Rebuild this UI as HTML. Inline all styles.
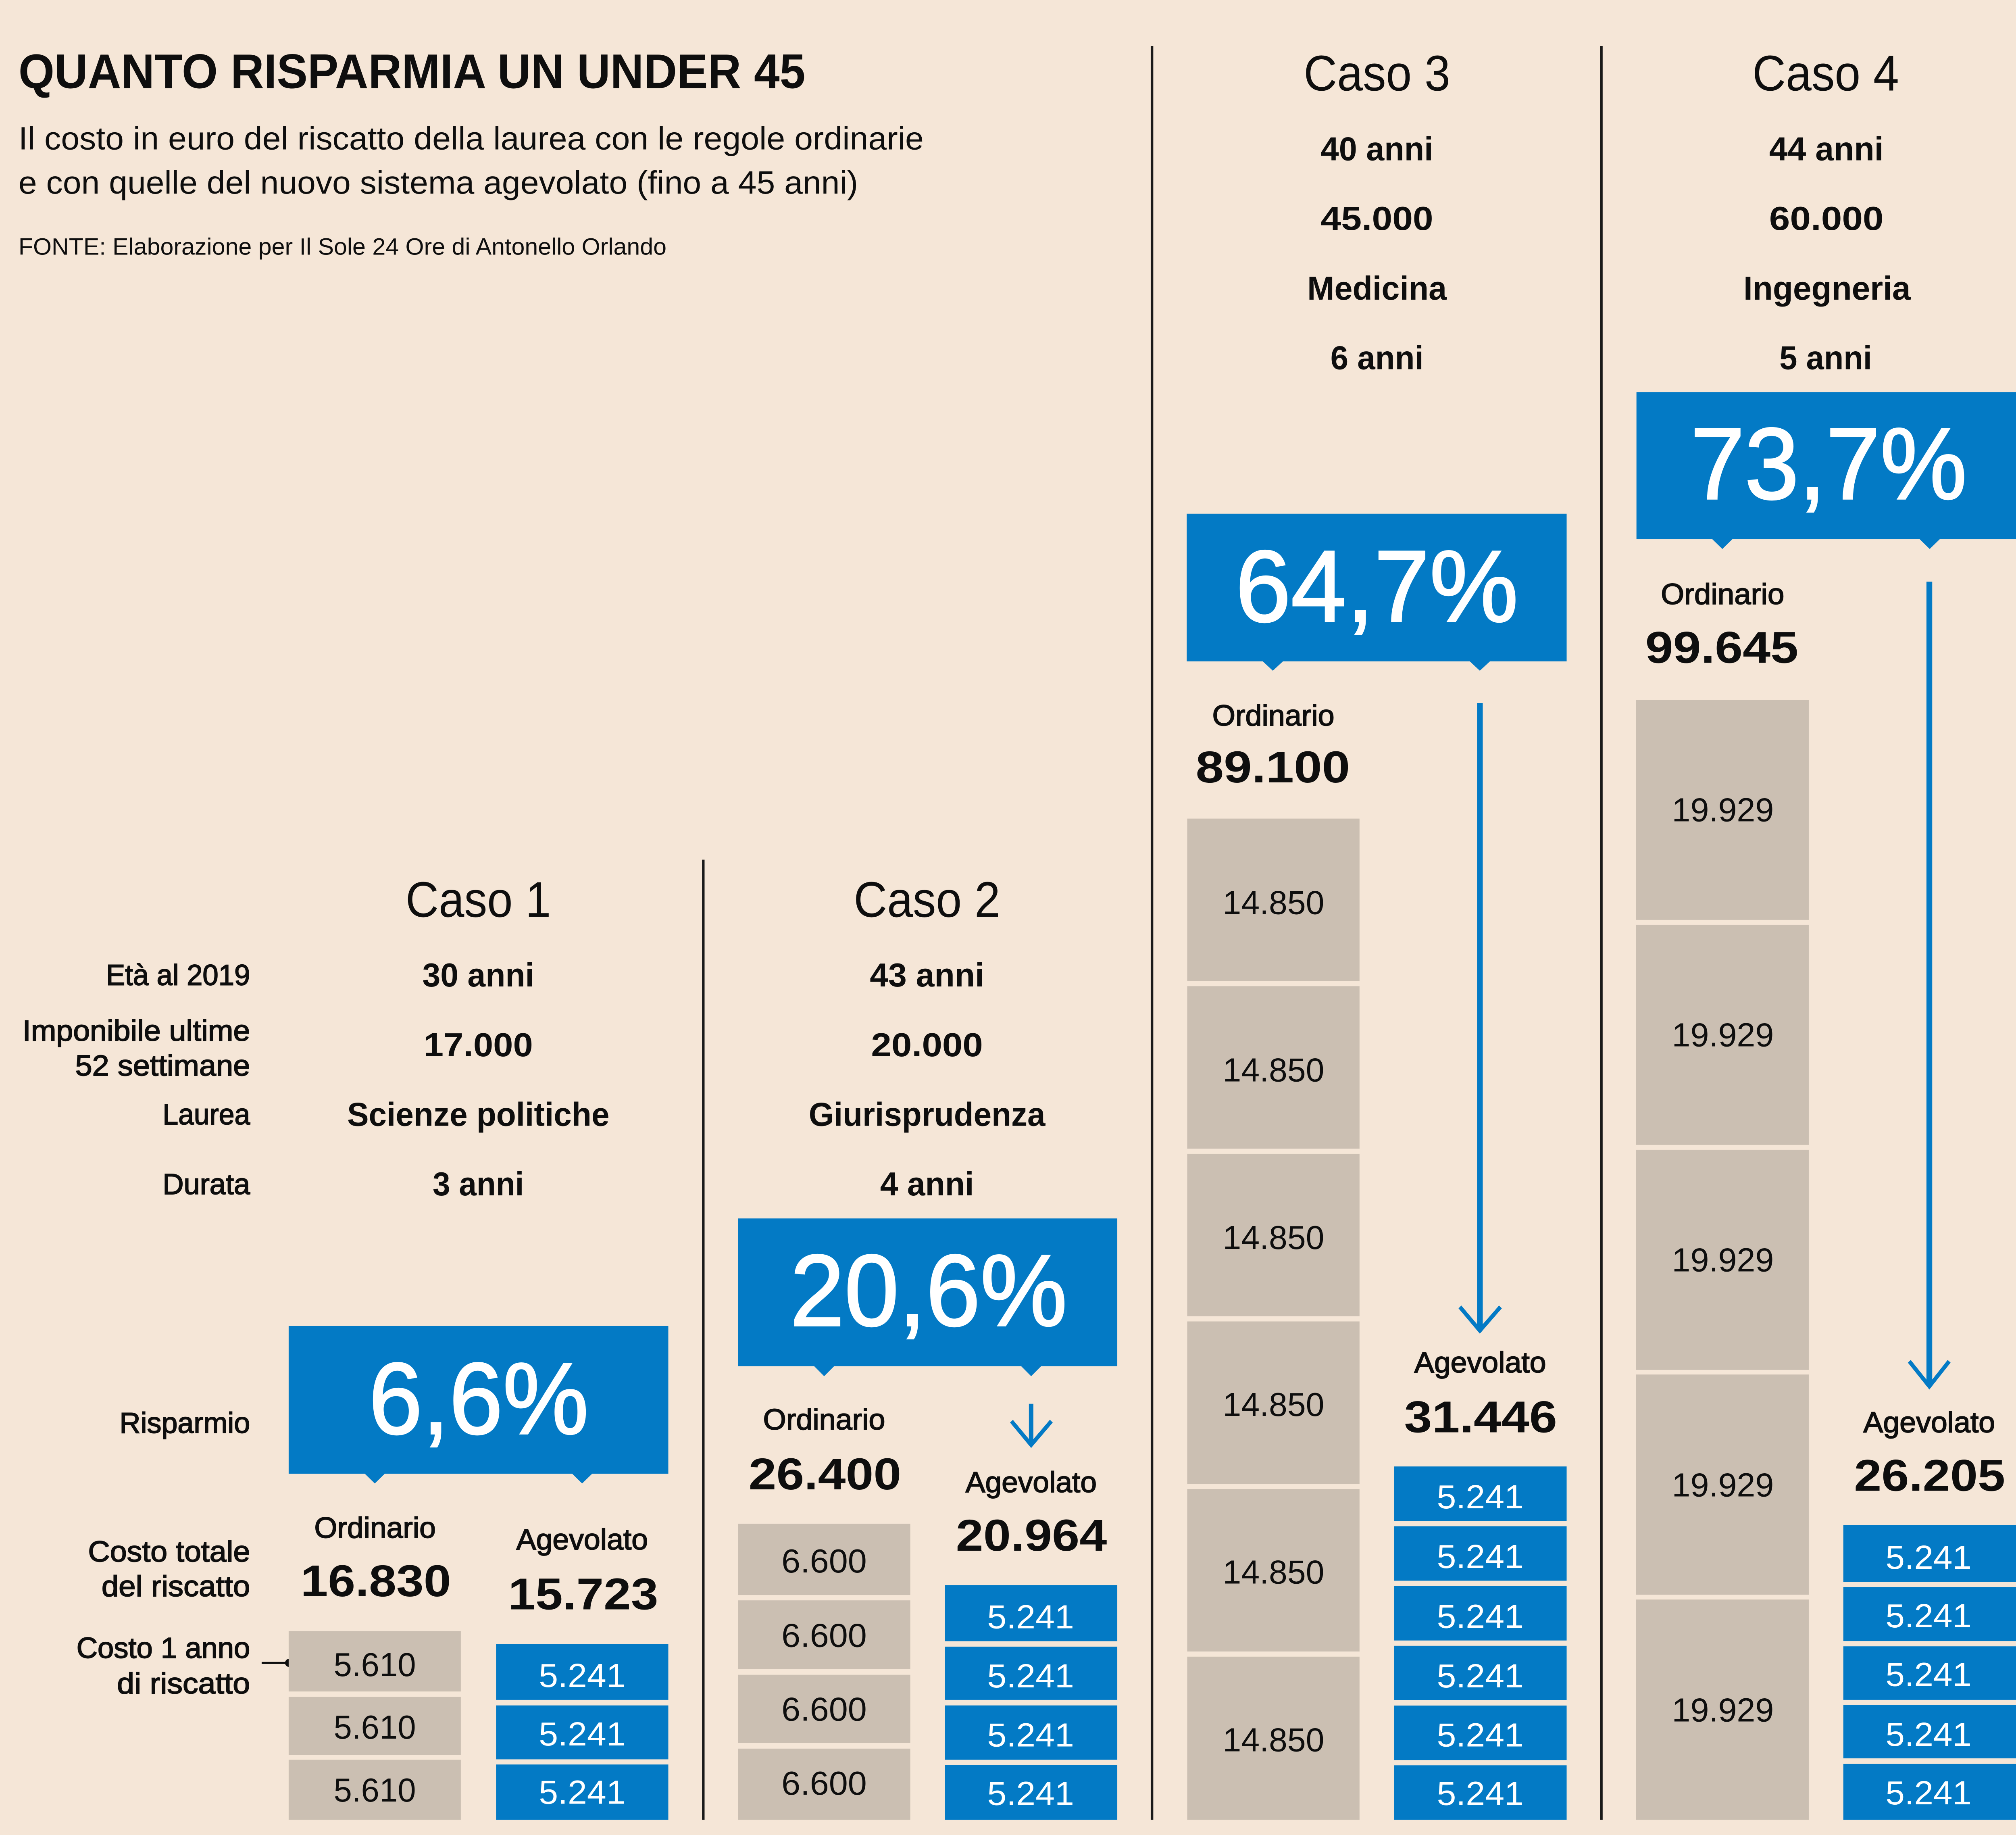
<!DOCTYPE html>
<html><head><meta charset="utf-8"><style>
html,body{margin:0;padding:0;background:#F5E6D7;overflow:hidden;width:100vw;height:100vh;}
svg{display:block;width:100vw;height:100vh;}
text{font-family:"Liberation Sans",Arial,sans-serif;fill:#0e0e0e;}
.b{font-weight:bold;}
.m text{stroke:#0e0e0e;stroke-width:0.55;}
text.w{fill:#fff;}
.pc text{fill:#fff;stroke:#fff;stroke-width:1.1;font-size:73px;}
.bx{font-size:24px;}
.lab{font-size:21px;}
.row{font-size:24px;font-weight:bold;}
.tot{font-size:32px;font-weight:bold;}
.cs{font-size:36px;}
</style></head><body>
<svg viewBox="0 0 1568 1317" preserveAspectRatio="none" xmlns="http://www.w3.org/2000/svg">
<rect x="0" y="0" width="1568" height="1317" fill="#F5E6D7"/>

<!-- Header -->
<text x="14.4" y="63.3" class="b" font-size="35" textLength="612" lengthAdjust="spacingAndGlyphs">QUANTO RISPARMIA UN UNDER 45</text>
<text x="14.4" y="107.2" font-size="23" textLength="704" lengthAdjust="spacingAndGlyphs">Il costo in euro del riscatto della laurea con le regole ordinarie</text>
<text x="14.4" y="139" font-size="23" textLength="653" lengthAdjust="spacingAndGlyphs">e con quelle del nuovo sistema agevolato (fino a 45 anni)</text>
<text x="14.4" y="182.8" font-size="17" textLength="504" lengthAdjust="spacingAndGlyphs">FONTE: Elaborazione per Il Sole 24 Ore di Antonello Orlando</text>

<!-- Dividers -->
<line x1="547" y1="617" x2="547" y2="1306" stroke="#1a1a1a" stroke-width="2"/>
<line x1="896" y1="33" x2="896" y2="1306" stroke="#1a1a1a" stroke-width="2"/>
<line x1="1245.5" y1="33" x2="1245.5" y2="1306" stroke="#1a1a1a" stroke-width="2"/>

<!-- Left labels -->
<g class="lab m" text-anchor="end">
<text x="194.5" y="707" textLength="112" lengthAdjust="spacingAndGlyphs">Età al 2019</text>
<text x="194.5" y="747" textLength="177" lengthAdjust="spacingAndGlyphs">Imponibile ultime</text>
<text x="194.5" y="772" textLength="136" lengthAdjust="spacingAndGlyphs">52 settimane</text>
<text x="194.5" y="807" textLength="68" lengthAdjust="spacingAndGlyphs">Laurea</text>
<text x="194.5" y="857" textLength="68" lengthAdjust="spacingAndGlyphs">Durata</text>
<text x="194.5" y="1028.4" textLength="101.5" lengthAdjust="spacingAndGlyphs">Risparmio</text>
<text x="194.5" y="1120.7" textLength="126" lengthAdjust="spacingAndGlyphs">Costo totale</text>
<text x="194.5" y="1145.6" textLength="115.5" lengthAdjust="spacingAndGlyphs">del riscatto</text>
<text x="194.5" y="1190" textLength="135" lengthAdjust="spacingAndGlyphs">Costo 1 anno</text>
<text x="194.5" y="1215.4" textLength="103.5" lengthAdjust="spacingAndGlyphs">di riscatto</text>
</g>
<line x1="203.5" y1="1193.5" x2="224" y2="1193.5" stroke="#0e0e0e" stroke-width="1.5"/>
<circle cx="224.5" cy="1193.5" r="2.8" fill="#0e0e0e"/>

<!-- Case headers -->
<g class="cs" text-anchor="middle">
<text x="372" y="658" textLength="113" lengthAdjust="spacingAndGlyphs">Caso 1</text>
<text x="721" y="658" textLength="114" lengthAdjust="spacingAndGlyphs">Caso 2</text>
<text x="1071" y="65" textLength="114" lengthAdjust="spacingAndGlyphs">Caso 3</text>
<text x="1420" y="65" textLength="114" lengthAdjust="spacingAndGlyphs">Caso 4</text>
</g>

<!-- Row values -->
<g class="row" text-anchor="middle">
<text x="372" y="708" textLength="87" lengthAdjust="spacingAndGlyphs">30 anni</text>
<text x="372" y="758" textLength="85" lengthAdjust="spacingAndGlyphs">17.000</text>
<text x="372" y="808" textLength="204" lengthAdjust="spacingAndGlyphs">Scienze politiche</text>
<text x="372" y="858" textLength="71" lengthAdjust="spacingAndGlyphs">3 anni</text>

<text x="721" y="708" textLength="89" lengthAdjust="spacingAndGlyphs">43 anni</text>
<text x="721" y="758" textLength="87" lengthAdjust="spacingAndGlyphs">20.000</text>
<text x="721" y="808" textLength="184" lengthAdjust="spacingAndGlyphs">Giurisprudenza</text>
<text x="721" y="858" textLength="73" lengthAdjust="spacingAndGlyphs">4 anni</text>

<text x="1071" y="115" textLength="87.5" lengthAdjust="spacingAndGlyphs">40 anni</text>
<text x="1071" y="165" textLength="87.5" lengthAdjust="spacingAndGlyphs">45.000</text>
<text x="1071" y="215" textLength="108.5" lengthAdjust="spacingAndGlyphs">Medicina</text>
<text x="1071" y="265" textLength="72.5" lengthAdjust="spacingAndGlyphs">6 anni</text>

<text x="1420.5" y="115" textLength="89" lengthAdjust="spacingAndGlyphs">44 anni</text>
<text x="1420.5" y="165" textLength="89" lengthAdjust="spacingAndGlyphs">60.000</text>
<text x="1421" y="215" textLength="130" lengthAdjust="spacingAndGlyphs">Ingegneria</text>
<text x="1420" y="265" textLength="72" lengthAdjust="spacingAndGlyphs">5 anni</text>
</g>

<!-- Percentage boxes -->
<g fill="#037AC5">
<rect x="224.5" y="951.7" width="295.3" height="106"/>
<polygon points="283.5,1057.5 291.5,1064.7 299.5,1057.5"/>
<polygon points="444.8,1057.5 452.8,1064.7 460.8,1057.5"/>

<rect x="574" y="874.5" width="295" height="106"/>
<polygon points="633,980.3 641,987.7 649,980.3"/>
<polygon points="794,980.3 802,987.7 810,980.3"/>

<rect x="923" y="368.7" width="295.5" height="106"/>
<polygon points="982,474.5 990,481.4 998,474.5"/>
<polygon points="1143,474.5 1151,481.4 1159,474.5"/>

<rect x="1272.8" y="281.4" width="295.2" height="105.6"/>
<polygon points="1331.6,386.8 1339.6,394 1347.6,386.8"/>
<polygon points="1492.9,386.8 1500.9,394 1508.9,386.8"/>
</g>
<g class="pc" text-anchor="middle">
<text x="372.3" y="1029" textLength="171" lengthAdjust="spacingAndGlyphs">6,6%</text>
<text x="722.3" y="951.4" textLength="215.5" lengthAdjust="spacingAndGlyphs">20,6%</text>
<text x="1070.9" y="446" textLength="220" lengthAdjust="spacingAndGlyphs">64,7%</text>
<text x="1422.3" y="358" textLength="215" lengthAdjust="spacingAndGlyphs">73,7%</text>
</g>

<!-- Ordinario / Agevolato labels -->
<g class="lab m" text-anchor="middle">
<text x="291.7" y="1103.7" textLength="94.5" lengthAdjust="spacingAndGlyphs">Ordinario</text>
<text x="452.8" y="1112" textLength="102.4" lengthAdjust="spacingAndGlyphs">Agevolato</text>
<text x="641" y="1026" textLength="95" lengthAdjust="spacingAndGlyphs">Ordinario</text>
<text x="802" y="1071" textLength="102" lengthAdjust="spacingAndGlyphs">Agevolato</text>
<text x="990.4" y="520.7" textLength="95" lengthAdjust="spacingAndGlyphs">Ordinario</text>
<text x="1151.3" y="985" textLength="102.5" lengthAdjust="spacingAndGlyphs">Agevolato</text>
<text x="1339.8" y="433.6" textLength="96" lengthAdjust="spacingAndGlyphs">Ordinario</text>
<text x="1500.5" y="1028" textLength="102.5" lengthAdjust="spacingAndGlyphs">Agevolato</text>
</g>
<g class="tot" text-anchor="middle">
<text x="292.3" y="1145.6" textLength="117" lengthAdjust="spacingAndGlyphs">16.830</text>
<text x="453.6" y="1155" textLength="116.7" lengthAdjust="spacingAndGlyphs">15.723</text>
<text x="641.6" y="1069" textLength="118.7" lengthAdjust="spacingAndGlyphs">26.400</text>
<text x="802.2" y="1113" textLength="117.5" lengthAdjust="spacingAndGlyphs">20.964</text>
<text x="990" y="561.6" textLength="120" lengthAdjust="spacingAndGlyphs">89.100</text>
<text x="1151.6" y="1028" textLength="119" lengthAdjust="spacingAndGlyphs">31.446</text>
<text x="1339.2" y="475.7" textLength="119" lengthAdjust="spacingAndGlyphs">99.645</text>
<text x="1500.8" y="1070" textLength="117.6" lengthAdjust="spacingAndGlyphs">26.205</text>
</g>

<!-- Arrows -->
<g stroke="#037AC5" fill="none">
<line x1="802" y1="1007.5" x2="802" y2="1036" stroke-width="3.5"/>
<polyline points="786.7,1020 802,1037 817.7,1020" stroke-width="3"/>
<line x1="1151" y1="504.5" x2="1151" y2="953" stroke-width="4.5"/>
<polyline points="1135.5,938 1151,955 1167,938" stroke-width="3"/>
<line x1="1500.6" y1="417.5" x2="1500.6" y2="993" stroke-width="4.5"/>
<polyline points="1485,977 1500.6,995 1516,977" stroke-width="3"/>
</g>

<!-- Gray boxes -->
<g fill="#CBBFB2">
<rect x="224.5" y="1170.6" width="133.9" height="43.4"/>
<rect x="224.5" y="1217.8" width="133.9" height="41.7"/>
<rect x="224.5" y="1263" width="133.9" height="43"/>

<rect x="574" y="1093.6" width="134" height="51.2"/>
<rect x="574" y="1148.6" width="134" height="49.4"/>
<rect x="574" y="1202" width="134" height="49"/>
<rect x="574" y="1255" width="134" height="51"/>

<rect x="923.4" y="587.5" width="134" height="116.6"/>
<rect x="923.4" y="707.8" width="134" height="116.6"/>
<rect x="923.4" y="828.1" width="134" height="116.6"/>
<rect x="923.4" y="948.4" width="134" height="116.6"/>
<rect x="923.4" y="1068.7" width="134" height="116.6"/>
<rect x="923.4" y="1189" width="134" height="117"/>

<rect x="1272.5" y="502.2" width="134.3" height="158"/>
<rect x="1272.5" y="663.7" width="134.3" height="158"/>
<rect x="1272.5" y="825.2" width="134.3" height="158"/>
<rect x="1272.5" y="986.5" width="134.3" height="158"/>
<rect x="1272.5" y="1148" width="134.3" height="158"/>
</g>

<!-- Blue boxes -->
<g fill="#037AC5">
<rect x="385.8" y="1180" width="134" height="40"/>
<rect x="385.8" y="1224" width="134" height="38.7"/>
<rect x="385.8" y="1266.4" width="134" height="39.6"/>

<rect x="735" y="1137.6" width="134" height="40.3"/>
<rect x="735" y="1181.8" width="134" height="38.2"/>
<rect x="735" y="1224" width="134" height="39"/>
<rect x="735" y="1266.7" width="134" height="39.3"/>

<rect x="1084.3" y="1052.5" width="134.2" height="39.1"/>
<rect x="1084.3" y="1095.4" width="134.2" height="39.1"/>
<rect x="1084.3" y="1138.3" width="134.2" height="39.1"/>
<rect x="1084.3" y="1181.2" width="134.2" height="39.1"/>
<rect x="1084.3" y="1224.1" width="134.2" height="39.1"/>
<rect x="1084.3" y="1267" width="134.2" height="39"/>

<rect x="1433.7" y="1094.7" width="134.3" height="40.6"/>
<rect x="1433.7" y="1139" width="134.3" height="38.8"/>
<rect x="1433.7" y="1181.6" width="134.3" height="38.4"/>
<rect x="1433.7" y="1223.8" width="134.3" height="38.2"/>
<rect x="1433.7" y="1266" width="134.3" height="40"/>
</g>

<!-- Box numbers gray -->
<g class="bx" text-anchor="middle">
<text x="291.5" y="1202.9" textLength="64" lengthAdjust="spacingAndGlyphs">5.610</text>
<text x="291.5" y="1247.8" textLength="64" lengthAdjust="spacingAndGlyphs">5.610</text>
<text x="291.5" y="1293" textLength="64" lengthAdjust="spacingAndGlyphs">5.610</text>

<text x="641" y="1128.6" textLength="66.4" lengthAdjust="spacingAndGlyphs">6.600</text>
<text x="641" y="1182" textLength="66.4" lengthAdjust="spacingAndGlyphs">6.600</text>
<text x="641" y="1235" textLength="66.4" lengthAdjust="spacingAndGlyphs">6.600</text>
<text x="641" y="1288" textLength="66.4" lengthAdjust="spacingAndGlyphs">6.600</text>

<text x="990.5" y="656" textLength="79" lengthAdjust="spacingAndGlyphs">14.850</text>
<text x="990.5" y="776.2" textLength="79" lengthAdjust="spacingAndGlyphs">14.850</text>
<text x="990.5" y="896.5" textLength="79" lengthAdjust="spacingAndGlyphs">14.850</text>
<text x="990.5" y="1016.3" textLength="79" lengthAdjust="spacingAndGlyphs">14.850</text>
<text x="990.5" y="1136.6" textLength="79" lengthAdjust="spacingAndGlyphs">14.850</text>
<text x="990.5" y="1257" textLength="79" lengthAdjust="spacingAndGlyphs">14.850</text>

<text x="1340" y="589.5" textLength="79.3" lengthAdjust="spacingAndGlyphs">19.929</text>
<text x="1340" y="751" textLength="79.3" lengthAdjust="spacingAndGlyphs">19.929</text>
<text x="1340" y="912.5" textLength="79.3" lengthAdjust="spacingAndGlyphs">19.929</text>
<text x="1340" y="1074" textLength="79.3" lengthAdjust="spacingAndGlyphs">19.929</text>
<text x="1340" y="1235.5" textLength="79.3" lengthAdjust="spacingAndGlyphs">19.929</text>
</g>

<!-- Box numbers blue -->
<g class="bx" text-anchor="middle">
<text class="w" x="452.8" y="1210.8" textLength="67.5" lengthAdjust="spacingAndGlyphs">5.241</text>
<text class="w" x="452.8" y="1252.8" textLength="67.5" lengthAdjust="spacingAndGlyphs">5.241</text>
<text class="w" x="452.8" y="1294.6" textLength="67.5" lengthAdjust="spacingAndGlyphs">5.241</text>

<text class="w" x="801.6" y="1168.6" textLength="67.6" lengthAdjust="spacingAndGlyphs">5.241</text>
<text class="w" x="801.6" y="1211" textLength="67.6" lengthAdjust="spacingAndGlyphs">5.241</text>
<text class="w" x="801.6" y="1253.4" textLength="67.6" lengthAdjust="spacingAndGlyphs">5.241</text>
<text class="w" x="801.6" y="1295.5" textLength="67.6" lengthAdjust="spacingAndGlyphs">5.241</text>

<text class="w" x="1151.3" y="1082.5" textLength="67.6" lengthAdjust="spacingAndGlyphs">5.241</text>
<text class="w" x="1151.3" y="1125.4" textLength="67.6" lengthAdjust="spacingAndGlyphs">5.241</text>
<text class="w" x="1151.3" y="1168.3" textLength="67.6" lengthAdjust="spacingAndGlyphs">5.241</text>
<text class="w" x="1151.3" y="1211" textLength="67.6" lengthAdjust="spacingAndGlyphs">5.241</text>
<text class="w" x="1151.3" y="1253.4" textLength="67.6" lengthAdjust="spacingAndGlyphs">5.241</text>
<text class="w" x="1151.3" y="1295.5" textLength="67.6" lengthAdjust="spacingAndGlyphs">5.241</text>

<text class="w" x="1500" y="1126" textLength="67" lengthAdjust="spacingAndGlyphs">5.241</text>
<text class="w" x="1500" y="1168" textLength="67" lengthAdjust="spacingAndGlyphs">5.241</text>
<text class="w" x="1500" y="1210" textLength="67" lengthAdjust="spacingAndGlyphs">5.241</text>
<text class="w" x="1500" y="1253" textLength="67" lengthAdjust="spacingAndGlyphs">5.241</text>
<text class="w" x="1500" y="1295" textLength="67" lengthAdjust="spacingAndGlyphs">5.241</text>
</g>
</svg>
</body></html>
